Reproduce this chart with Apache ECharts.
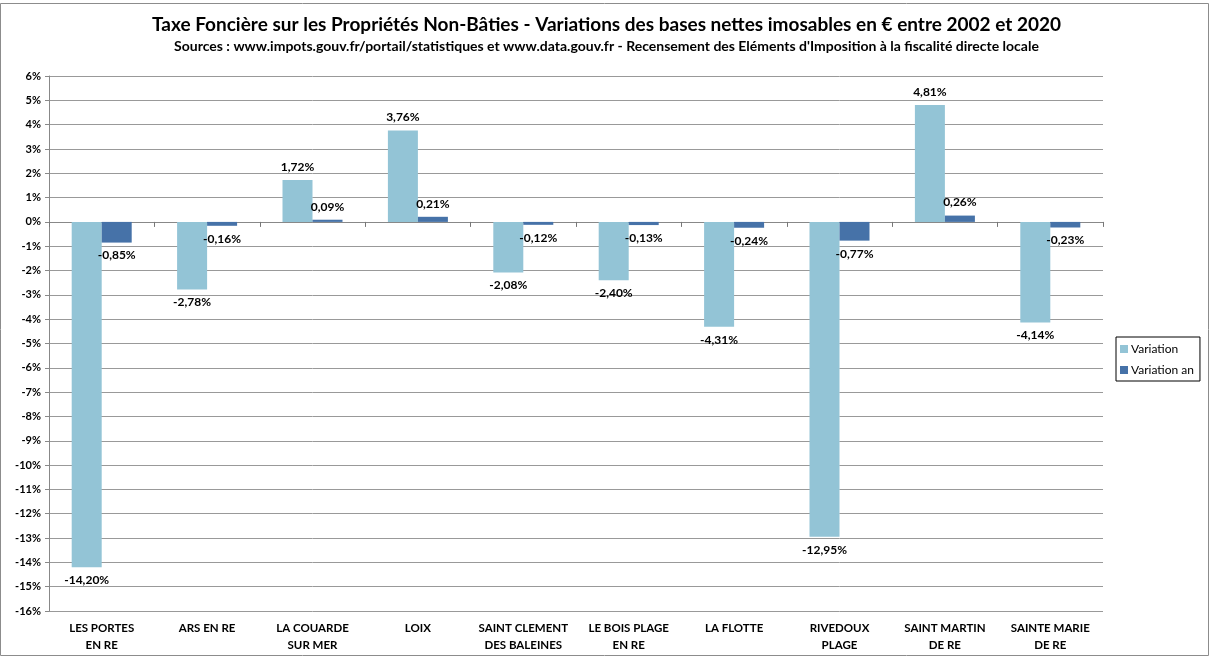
<!DOCTYPE html>
<html>
<head>
<meta charset="utf-8">
<script src="https://cdn.jsdelivr.net/npm/echarts@6/dist/echarts.min.js"></script>
<style>
  html, body { margin: 0; padding: 0; background: #fff; }
  #chart { width: 1213px; height: 660px; }
</style>
</head>
<body>
<div id="chart"></div>
<script>
const communes = [
  "LES PORTES\nEN RE", "ARS EN RE", "LA COUARDE\nSUR MER", "LOIX", "SAINT CLEMENT\nDES BALEINES",
  "LE BOIS PLAGE\nEN RE", "LA FLOTTE", "RIVEDOUX\nPLAGE", "SAINT MARTIN\nDE RE", "SAINTE MARIE\nDE RE"
];
const variation = [-14.20, -2.78, 1.72, 3.76, -2.08, -2.40, -4.31, -12.95, 4.81, -4.14];
const variationAn = [-0.85, -0.16, 0.09, 0.21, -0.12, -0.13, -0.24, -0.77, 0.26, -0.23];

const font = "Lato, 'Open Sans', sans-serif";

function pct(v) {
  return v.toFixed(2).replace(".", ",") + "%";
}

function withLabels(values) {
  return values.map((v) => ({
    value: v,
    label: { position: v < 0 ? "bottom" : "top" }
  }));
}

const valueLabel = {
  show: true,
  formatter: (p) => pct(p.value),
  fontFamily: font,
  fontSize: 12,
  fontWeight: "bold",
  color: "#000",
  distance: 7
};

const chart = echarts.init(document.getElementById("chart"), null, { renderer: "canvas" });

chart.setOption({
  animation: false,
  textStyle: { fontFamily: font },
  graphic: [
    {
      type: "rect",
      shape: { x: 0.5, y: 3.5, width: 1208, height: 652 },
      style: { fill: "none", stroke: "#8c8c8c", lineWidth: 1 }
    }
  ],
  title: {
    text: "Taxe Foncière sur les Propriétés Non-Bâties - Variations des bases nettes imosables en € entre 2002 et 2020",
    subtext: "Sources : www.impots.gouv.fr/portail/statistiques et www.data.gouv.fr - Recensement des Eléments d'Imposition à la fiscalité directe locale",
    left: "center",
    top: 10,
    itemGap: 5,
    textStyle: { fontFamily: font, fontSize: 19, fontWeight: "bold", color: "#000" },
    subtextStyle: { fontFamily: font, fontSize: 14, fontWeight: "bold", color: "#000" }
  },
  legend: {
    orient: "vertical",
    left: 1116,
    top: 337,
    padding: [6, 6, 5, 4],
    itemGap: 9,
    itemWidth: 8,
    itemHeight: 8,
    icon: "rect",
    borderColor: "#000",
    borderWidth: 1,
    textStyle: { fontFamily: font, fontSize: 12, color: "#000", padding: [0, 0, 0, -2] },
    data: ["Variation", "Variation an"]
  },
  grid: { left: 49, right: 110, top: 76, bottom: 49 },
  xAxis: [
    {
      type: "category",
      data: communes,
      axisLine: { show: false, onZero: false },
      axisTick: { show: false },
      axisLabel: {
        interval: 0,
        margin: 9,
        fontFamily: font,
        fontSize: 11.5,
        fontWeight: "bold",
        color: "#000",
        lineHeight: 17
      }
    },
    {
      type: "category",
      data: communes,
      position: "top",
      axisLine: { show: true, onZero: true, lineStyle: { color: "#888" } },
      axisTick: { show: true, inside: true, interval: 0, length: 5, lineStyle: { color: "#777" } },
      axisLabel: { show: false }
    }
  ],
  yAxis: {
    type: "value",
    min: -16,
    max: 6,
    interval: 1,
    axisLine: { show: true, lineStyle: { color: "#888" } },
    axisTick: { show: true, length: 4, lineStyle: { color: "#888" } },
    axisLabel: {
      formatter: "{value}%",
      fontFamily: font,
      fontSize: 11,
      fontWeight: "bold",
      color: "#000",
      margin: 8
    },
    splitLine: { lineStyle: { color: "#999", width: 1 } }
  },
  series: [
    {
      name: "Variation",
      type: "bar",
      xAxisIndex: 0,
      barWidth: 30,
      barGap: "0%",
      itemStyle: { color: "#93C4D6" },
      label: valueLabel,
      data: withLabels(variation)
    },
    {
      name: "Variation an",
      type: "bar",
      xAxisIndex: 0,
      barWidth: 30,
      itemStyle: { color: "#4672A8" },
      label: valueLabel,
      data: withLabels(variationAn)
    }
  ]
});
</script>
</body>
</html>
